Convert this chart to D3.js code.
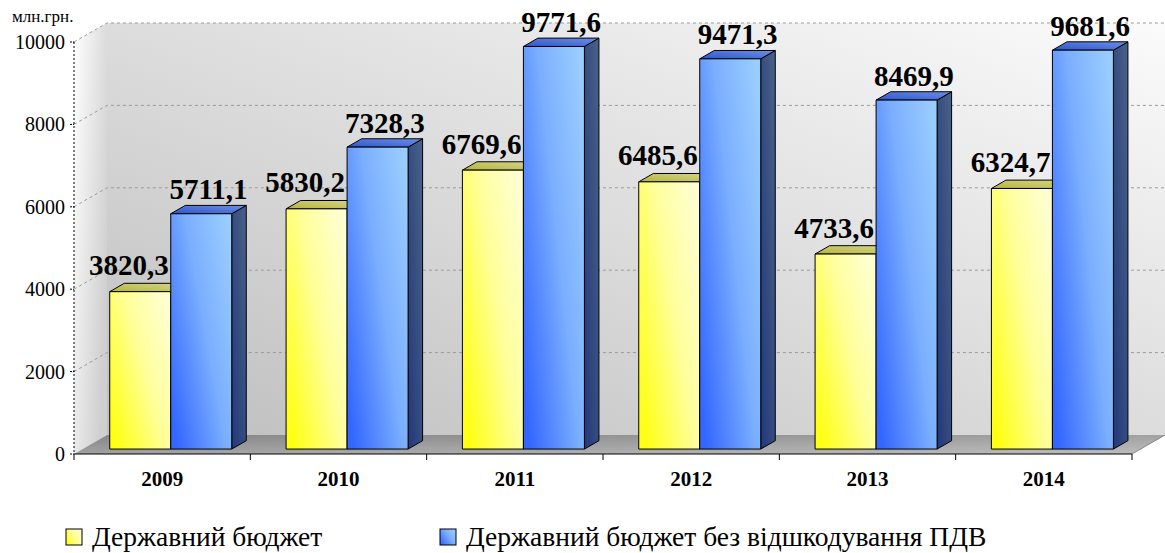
<!DOCTYPE html>
<html>
<head>
<meta charset="utf-8">
<script src="https://cdnjs.cloudflare.com/ajax/libs/d3/7.8.5/d3.min.js"></script>
<style>
  body { margin: 0; background: #fff; }
</style>
</head>
<body>
<div id="chart"></div>
<script>
// data
var years = ["2009", "2010", "2011", "2012", "2013", "2014"];
var seriesNames = ["Державний бюджет", "Державний бюджет без відшкодування ПДВ"];
var budget = [3820.3, 5830.2, 6769.6, 6485.6, 4733.6, 6324.7];
var budgetNoVat = [5711.1, 7328.3, 9771.6, 9471.3, 8469.9, 9681.6];
var yTicks = [0, 2000, 4000, 6000, 8000, 10000];
var unitLabel = "млн.грн.";

var width = 1165, height = 553;
var plotL = 74, plotR = 1132, plotB = 454, plotT = 42;
var depth = { x: 33, y: -19 };       // wall depth
var barFront = 0.26, barDepth = 0.44; // bar placement inside depth

var svg = d3.select("#chart").append("svg")
  .attr("width", width)
  .attr("height", height)
  .attr("font-family", "'Liberation Serif', 'Times New Roman', 'DejaVu Serif', serif");

var defs = svg.append("defs");
function grad(id, stops, x1, y1, x2, y2) {
  var g = defs.append("linearGradient").attr("id", id)
    .attr("x1", x1).attr("y1", y1).attr("x2", x2).attr("y2", y2);
  stops.forEach(function(s) {
    g.append("stop").attr("offset", s[0]).attr("stop-color", s[1]);
  });
}
grad("wallBack", [[0, "#bebebe"], [1, "#fbfbfb"]], 0, 1, 1, 0);
grad("wallSide", [[0, "#ffffff"], [1, "#cfcfcf"]], 0, 0, 1, 0.6);
grad("floor", [[0, "#868686"], [1, "#bdbdbd"]], 0, 0, 1, 1);
grad("yFront", [[0, "#ffff10"], [0.55, "#ffff99"], [1, "#ffffd2"]], 0, 0.85, 1, 0.15);
grad("bFront", [[0, "#3366ff"], [0.55, "#7aaeff"], [1, "#99ccff"]], 0, 0.85, 1, 0.15);
grad("yTop", [[0, "#b5b53c"], [1, "#d6d68c"]], 0, 1, 1, 0);
grad("bTop", [[0, "#2f55c8"], [1, "#6a90e8"]], 0, 1, 1, 0);
grad("bSide", [[0, "#22387a"], [1, "#4a6288"]], 0, 1, 1, 0);

var x = d3.scaleBand().domain(years).range([plotL, plotR]).paddingInner(0).paddingOuter(0);
var inner = d3.scaleBand().domain([0, 1]).range([0, 122]);
var y = d3.scaleLinear().domain([0, 10000]).range([plotB, plotT]);

// side wall
svg.append("path")
  .attr("d", d3.line()([[plotL, y(10000)], [plotL + depth.x, y(10000) + depth.y],
    [plotL + depth.x, plotB + depth.y], [plotL, plotB]]) + "Z")
  .attr("fill", "url(#wallSide)");
// back wall
svg.append("rect")
  .attr("x", plotL + depth.x).attr("y", y(10000) + depth.y)
  .attr("width", plotR - plotL).attr("height", plotB - y(10000))
  .attr("fill", "url(#wallBack)");

// gridlines
var grid = svg.append("g").attr("stroke", "#9a9a9a").attr("stroke-dasharray", "3,3").attr("fill", "none");
yTicks.filter(function(d) { return d > 0; }).forEach(function(v) {
  grid.append("path").attr("d", d3.line()([[plotL, y(v)], [plotL + depth.x, y(v) + depth.y],
    [plotR + depth.x, y(v) + depth.y]]));
});

// floor
svg.append("path")
  .attr("d", d3.line()([[plotL, plotB], [plotR, plotB], [plotR + depth.x, plotB + depth.y],
    [plotL + depth.x, plotB + depth.y]]) + "Z")
  .attr("fill", "url(#floor)");
svg.append("line")
  .attr("x1", plotR).attr("y1", plotB).attr("x2", plotR + depth.x).attr("y2", plotB + depth.y)
  .attr("stroke", "#888");

// bars
var ox = depth.x * barFront, oy = depth.y * barFront;
var dx = depth.x * barDepth, dy = depth.y * barDepth;
var series = [
  { name: seriesNames[0], values: budget, front: "url(#yFront)", top: "url(#yTop)", side: "#a0a030" },
  { name: seriesNames[1], values: budgetNoVat, front: "url(#bFront)", top: "url(#bTop)", side: "url(#bSide)" }
];
var barsG = svg.append("g").attr("stroke", "#000").attr("stroke-width", 1).attr("stroke-linejoin", "round");
years.forEach(function(yr, i) {
  series.forEach(function(s, k) {
    var x0 = x(yr) + (x.bandwidth() - 122) / 2 + inner(k) + ox;
    var x1 = x0 + inner.bandwidth();
    var yt = y(s.values[i]) + oy, yb = plotB + oy;
    barsG.append("path")
      .attr("d", d3.line()([[x1, yt], [x1 + dx, yt + dy], [x1 + dx, yb + dy], [x1, yb]]) + "Z")
      .attr("fill", s.side);
    barsG.append("path")
      .attr("d", d3.line()([[x0, yt], [x0 + dx, yt + dy], [x1 + dx, yt + dy], [x1, yt]]) + "Z")
      .attr("fill", s.top);
    barsG.append("rect")
      .attr("x", x0).attr("y", yt).attr("width", x1 - x0).attr("height", yb - yt)
      .attr("fill", s.front);
  });
});

// value labels
var fmt = function(v) { return v.toFixed(1).replace(".", ","); };
years.forEach(function(yr, i) {
  var xb = x(yr) + (x.bandwidth() - 122) / 2 + ox;
  svg.append("text")
    .attr("x", xb + inner(1) - 2)
    .attr("y", y(budget[i]) + oy + dy - 8)
    .attr("text-anchor", "end")
    .attr("font-size", 29).attr("font-weight", "bold")
    .text(fmt(budget[i]));
  svg.append("text")
    .attr("x", xb + inner(1) + inner.bandwidth() / 2 + dx / 2)
    .attr("y", y(budgetNoVat[i]) + oy + dy - 6)
    .attr("text-anchor", "middle")
    .attr("font-size", 29).attr("font-weight", "bold")
    .text(fmt(budgetNoVat[i]));
});

// y axis
svg.append("line")
  .attr("x1", plotL).attr("x2", plotL).attr("y1", y(10000)).attr("y2", plotB)
  .attr("stroke", "#000").attr("stroke-dasharray", "2,2");
var yAxis = svg.append("g");
yTicks.forEach(function(v) {
  yAxis.append("line").attr("x1", plotL - 4).attr("x2", plotL).attr("y1", y(v)).attr("y2", y(v))
    .attr("stroke", "#000").attr("stroke-dasharray", "2,1");
  yAxis.append("text").attr("x", plotL - 9).attr("y", y(v)).attr("dy", "0.35em")
    .attr("text-anchor", "end").attr("font-size", 20).text(v);
});
svg.append("text").attr("x", 12).attr("y", 22).attr("font-size", 17).text(unitLabel);

// x axis
svg.append("line").attr("x1", plotL).attr("x2", plotR).attr("y1", plotB).attr("y2", plotB)
  .attr("stroke", "#000");
d3.range(years.length + 1).forEach(function(i) {
  var xv = plotL + i * x.bandwidth();
  svg.append("line").attr("x1", xv).attr("x2", xv).attr("y1", plotB).attr("y2", plotB + 6)
    .attr("stroke", "#000");
});
years.forEach(function(yr) {
  svg.append("text").attr("x", x(yr) + x.bandwidth() / 2).attr("y", 486)
    .attr("text-anchor", "middle").attr("font-size", 21).attr("font-weight", "bold").text(yr);
});

// legend
var legendX = [66, 440];
var legendFill = ["url(#yFront)", "url(#bFront)"];
seriesNames.forEach(function(n, k) {
  svg.append("rect").attr("x", legendX[k]).attr("y", 529).attr("width", 16).attr("height", 16)
    .attr("fill", legendFill[k]).attr("stroke", "#000");
  svg.append("text").attr("x", legendX[k] + 26).attr("y", 546).attr("font-size", 27.5).text(n);
});
</script>
</body>
</html>
